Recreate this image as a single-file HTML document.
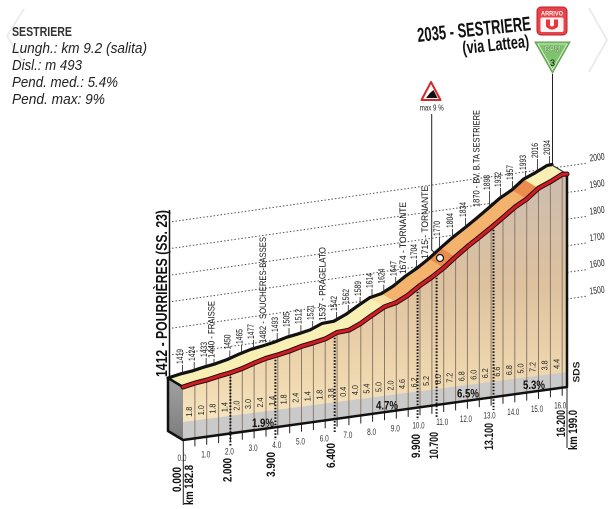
<!DOCTYPE html>
<html>
<head>
<meta charset="utf-8">
<style>
  html,body{margin:0;padding:0;background:#fff;}
  svg{display:block;}
  text{font-family:"Liberation Sans", sans-serif;}
</style>
</head>
<body>
<svg width="611" height="509" viewBox="0 0 611 509" xmlns="http://www.w3.org/2000/svg">
  <defs>
    <linearGradient id="front" gradientUnits="userSpaceOnUse" x1="0" y1="170" x2="0" y2="430">
      <stop offset="0" stop-color="#cbbcb0"/>
      <stop offset="0.45" stop-color="#dec29f"/>
      <stop offset="0.8" stop-color="#efd8b0"/>
      <stop offset="1" stop-color="#f8e8c2"/>
    </linearGradient>
    <linearGradient id="side" x1="0" y1="0" x2="0" y2="1">
      <stop offset="0" stop-color="#a2a2a2"/>
      <stop offset="1" stop-color="#7c7c7c"/>
    </linearGradient>
  </defs>
  <rect width="611" height="509" fill="#fff"/>

  <!-- faint chevrons -->
  <polyline points="24,9 7,36 24,63" fill="none" stroke="#ececec" stroke-width="2"/>
  <polyline points="589,8 607,40 589,72" fill="none" stroke="#ececec" stroke-width="2"/>

  <!-- top-left info -->
  <text x="12" y="36" font-size="13" font-weight="bold" fill="#333" textLength="60" lengthAdjust="spacingAndGlyphs">SESTRIERE</text>
  <text x="12" y="53" font-size="15" font-style="italic" fill="#222" textLength="135" lengthAdjust="spacingAndGlyphs">Lungh.: km 9.2 (salita)</text>
  <text x="12" y="70" font-size="15" font-style="italic" fill="#222" textLength="70" lengthAdjust="spacingAndGlyphs">Disl.: m 493</text>
  <text x="12" y="87" font-size="15" font-style="italic" fill="#222" textLength="106" lengthAdjust="spacingAndGlyphs">Pend. med.: 5.4%</text>
  <text x="12" y="104" font-size="15" font-style="italic" fill="#222" textLength="93" lengthAdjust="spacingAndGlyphs">Pend. max: 9%</text>

  <!-- title -->
  <text x="418" y="42" transform="rotate(-6 418 42)" font-size="20" font-weight="bold" fill="#111" textLength="114" lengthAdjust="spacingAndGlyphs">2035 - SESTRIERE</text>
  <text x="463" y="54" transform="rotate(-6 463 54)" font-size="18" font-weight="bold" fill="#111" textLength="67" lengthAdjust="spacingAndGlyphs">(via Lattea)</text>

  <!-- Arrivo icon -->
  <rect x="537" y="7" width="30" height="28" rx="4" fill="#e8434a" stroke="#b8242a" stroke-width="1"/>
  <text x="552" y="15.5" font-size="6.5" font-weight="bold" fill="#fff" text-anchor="middle" textLength="22" lengthAdjust="spacingAndGlyphs">ARRIVO</text>
  <rect x="540.5" y="17.5" width="23" height="14.5" rx="1.5" fill="#fff4f4"/>
  <path d="M546,19.5 h4 v6 q2,2 4,0 v-6 h4 v7 q-6,6 -12,0 z" fill="#e8343b"/>

  <!-- GPM -->
  <polygon points="535,42 570,42 552.5,73" fill="#7fc36c" stroke="#5c9c4e" stroke-width="1"/>
  <polygon points="538,44 567,44 552.5,69.5" fill="none" stroke="#dff2d5" stroke-width="0.8"/>
  <text x="552.5" y="52" font-size="8" font-weight="bold" fill="#e8f7df" stroke="#3f7a33" stroke-width="0.35" text-anchor="middle" textLength="16" lengthAdjust="spacingAndGlyphs">GPM</text>
  <text x="552.5" y="66" font-size="9" fill="#111" text-anchor="middle">3</text>
  <line x1="552.5" y1="74" x2="552.5" y2="165" stroke="#222" stroke-width="1"/>

  <!-- max 9% sign -->
  <polygon points="431,82 421.5,100 440.5,100" fill="#fff" stroke="#d42a2a" stroke-width="2" stroke-linejoin="round"/>
  <polygon points="426,98 437.5,98 433.5,90 430,93" fill="#111"/>
  <text x="431.7" y="110.5" font-size="8" fill="#222" text-anchor="middle" textLength="24" lengthAdjust="spacingAndGlyphs">max 9 %</text>
  <path d="M431.7,114 V250 L438,256" fill="none" stroke="#222" stroke-width="1"/>

  <!-- grid lines -->
  <g stroke="#555" stroke-width="1" stroke-dasharray="1.5 2" fill="none">
    <line x1="172" y1="221.7" x2="588" y2="163"/>
    <line x1="172" y1="248.3" x2="588" y2="189.6"/>
    <line x1="172" y1="274.9" x2="588" y2="216.2"/>
    <line x1="172" y1="301.5" x2="588" y2="242.8"/>
    <line x1="172" y1="328.1" x2="588" y2="269.4"/>
    <line x1="172" y1="354.7" x2="588" y2="296"/>
  </g>
  <g font-size="10" fill="#222" text-anchor="middle">
    <text transform="translate(597,157) rotate(-8)" dy="0.35em" textLength="15" lengthAdjust="spacingAndGlyphs">2000</text>
    <text transform="translate(597,183.6) rotate(-8)" dy="0.35em" textLength="15" lengthAdjust="spacingAndGlyphs">1900</text>
    <text transform="translate(597,210.2) rotate(-8)" dy="0.35em" textLength="15" lengthAdjust="spacingAndGlyphs">1800</text>
    <text transform="translate(597,236.8) rotate(-8)" dy="0.35em" textLength="15" lengthAdjust="spacingAndGlyphs">1700</text>
    <text transform="translate(597,263.4) rotate(-8)" dy="0.35em" textLength="15" lengthAdjust="spacingAndGlyphs">1600</text>
    <text transform="translate(597,290) rotate(-8)" dy="0.35em" textLength="15" lengthAdjust="spacingAndGlyphs">1500</text>
  </g>

  <!-- start label -->
  <line x1="169.5" y1="210" x2="169.5" y2="378" stroke="#111" stroke-width="1.5"/>
  <text transform="translate(166.8,377) rotate(-90)" font-size="16" font-weight="bold" fill="#111" textLength="167" lengthAdjust="spacingAndGlyphs">1412 - POURRIÈRES (SS. 23)</text>

  <!-- side face -->
  <polygon points="168,378 183,387 183,440 168,431" fill="url(#side)"/>

  <!-- front face -->
  <polygon fill="url(#front)" points="183,387 194.9,383.1 206.7,380.1 218.6,376.2 230.4,372.8 242.3,368.5 254.1,363.1 266,358.3 277.8,354.9 289.7,351 301.5,346.3 313.4,342.8 325.2,338.9 337.1,332.4 348.9,330.2 360.8,323.4 372.6,314.9 384.5,306.8 396.3,302.6 408.2,295.1 420,285.5 431.9,277.2 443.7,267.8 455.6,256.9 467.4,246.6 479.3,237.2 491.1,227.6 503,217.5 514.8,207.2 526.7,199.1 538.5,188.2 550.4,181.7 562.2,174.4 567,174 567,387 183,440"/>

  <!-- gray band -->
  <polygon points="183,422 567,372 567,387 183,440" fill="#cacaca"/>

  <!-- vertical column lines -->
  <path fill="none" stroke="#8d7b69" stroke-width="1" d="M194.9,383.1V438.4M206.7,380.1V436.7M218.6,376.2V435.1M230.4,372.8V433.5M242.3,368.5V431.8M254.1,363.1V430.2M266,358.3V428.6M277.8,354.9V426.9M289.7,351V425.3M301.5,346.3V423.6M313.4,342.8V422M325.2,338.9V420.4M337.1,332.4V418.7M348.9,330.2V417.1M360.8,323.4V415.5M372.6,314.9V413.8M384.5,306.8V412.2M396.3,302.6V410.6M408.2,295.1V408.9M420,285.5V407.3M431.9,277.2V405.7M443.7,267.8V404M455.6,256.9V402.4M467.4,246.6V400.8M479.3,237.2V399.1M491.1,227.6V397.5M503,217.5V395.8M514.8,207.2V394.2M526.7,199.1V392.6M538.5,188.2V390.9M550.4,181.7V389.3M562.2,174.4V387.7"/>

  <!-- ticks below baseline -->
  <path fill="none" stroke="#222" stroke-width="1" d="M194.9,438.4v8M206.7,436.7v8M218.6,435.1v8M230.4,433.5v8M242.3,431.8v8M254.1,430.2v8M266,428.6v8M277.8,426.9v8M289.7,425.3v8M301.5,423.6v8M313.4,422v8M325.2,420.4v8M337.1,418.7v8M348.9,417.1v8M360.8,415.5v8M372.6,413.8v8M384.5,412.2v8M396.3,410.6v8M408.2,408.9v8M420,407.3v8M431.9,405.7v8M443.7,404v8M455.6,402.4v8M467.4,400.8v8M479.3,399.1v8M491.1,397.5v8M503,395.8v8M514.8,394.2v8M526.7,392.6v8M538.5,390.9v8M550.4,389.3v8M562.2,387.7v8M183.3,440V505M567,387V448"/>

  <!-- top face -->
  <polygon fill="#f7efb4" points="183,387 194.9,383.1 206.7,380.1 218.6,376.2 230.4,372.8 242.3,368.5 254.1,363.1 266,358.3 277.8,354.9 289.7,351 301.5,346.3 313.4,342.8 325.2,338.9 337.1,332.4 348.9,330.2 360.8,323.4 372.6,314.9 384.5,306.8 396.3,302.6 408.2,295.1 420,285.5 431.9,277.2 443.7,267.8 455.6,256.9 467.4,246.6 479.3,237.2 491.1,227.6 503,217.5 514.8,207.2 526.7,199.1 538.5,188.2 550.4,181.7 562.2,174.4 567,174 552,165 547.2,165.4 535.4,172.7 523.5,179.2 511.7,190.1 499.8,198.2 488,208.5 476.1,218.6 464.3,228.2 452.4,237.6 440.6,247.9 428.7,258.8 416.9,268.2 405,276.5 393.2,286.1 381.3,293.6 369.5,297.8 357.6,305.9 345.8,314.4 333.9,321.2 322.1,323.4 310.2,329.9 298.4,333.8 286.5,337.3 274.7,342 262.8,345.9 251,349.3 239.1,354.1 227.3,359.5 215.4,363.8 203.6,367.2 191.7,371.1 179.9,374.1 168,378"/>
  <polygon fill="#f4b36c" points="396.3,302.6 408.2,295.1 420,285.5 431.9,277.2 443.7,267.8 455.6,256.9 467.4,246.6 479.3,237.2 491.1,227.6 503,217.5 514.8,207.2 526.7,199.1 511.7,190.1 499.8,198.2 488,208.5 476.1,218.6 464.3,228.2 452.4,237.6 440.6,247.9 428.7,258.8 416.9,268.2 405,276.5 393.2,286.1 381.3,293.6"/>
  <polygon fill="#f9d89a" opacity="0.7" points="384.5,306.8 396.3,302.6 381.3,293.6 369.5,297.8"/>
  <polygon fill="#ec8c4c" points="443.7,267.8 455.6,256.9 440.6,247.9 428.7,258.8"/>
  <polygon fill="#ec8c4c" points="526.7,199.1 538.5,188.2 523.5,179.2 511.7,190.1"/>

  <!-- gradient labels -->
  <g font-size="8.5" fill="#222" text-anchor="middle">
    <text transform="translate(191.9,411.7) rotate(-90)" textLength="10" lengthAdjust="spacingAndGlyphs">1.8</text>
    <text transform="translate(203.8,410.2) rotate(-90)" textLength="10" lengthAdjust="spacingAndGlyphs">1.0</text>
    <text transform="translate(215.6,408.6) rotate(-90)" textLength="10" lengthAdjust="spacingAndGlyphs">1.8</text>
    <text transform="translate(227.5,407.1) rotate(-90)" textLength="10" lengthAdjust="spacingAndGlyphs">1.4</text>
    <text transform="translate(239.3,405.6) rotate(-90)" textLength="10" lengthAdjust="spacingAndGlyphs">2.0</text>
    <text transform="translate(251.2,404) rotate(-90)" textLength="10" lengthAdjust="spacingAndGlyphs">3.0</text>
    <text transform="translate(263,402.5) rotate(-90)" textLength="10" lengthAdjust="spacingAndGlyphs">2.4</text>
    <text transform="translate(274.9,400.9) rotate(-90)" textLength="10" lengthAdjust="spacingAndGlyphs">1.4</text>
    <text transform="translate(286.7,399.4) rotate(-90)" textLength="10" lengthAdjust="spacingAndGlyphs">1.8</text>
    <text transform="translate(298.6,397.8) rotate(-90)" textLength="10" lengthAdjust="spacingAndGlyphs">2.4</text>
    <text transform="translate(310.4,396.3) rotate(-90)" textLength="10" lengthAdjust="spacingAndGlyphs">1.4</text>
    <text transform="translate(322.3,394.8) rotate(-90)" textLength="10" lengthAdjust="spacingAndGlyphs">1.8</text>
    <text transform="translate(334.1,393.2) rotate(-90)" textLength="10" lengthAdjust="spacingAndGlyphs">3.8</text>
    <text transform="translate(346,391.7) rotate(-90)" textLength="10" lengthAdjust="spacingAndGlyphs">0.4</text>
    <text transform="translate(357.8,390.1) rotate(-90)" textLength="10" lengthAdjust="spacingAndGlyphs">4.0</text>
    <text transform="translate(369.7,388.6) rotate(-90)" textLength="10" lengthAdjust="spacingAndGlyphs">5.4</text>
    <text transform="translate(381.5,387) rotate(-90)" textLength="10" lengthAdjust="spacingAndGlyphs">5.0</text>
    <text transform="translate(393.4,385.5) rotate(-90)" textLength="10" lengthAdjust="spacingAndGlyphs">2.0</text>
    <text transform="translate(405.2,384) rotate(-90)" textLength="10" lengthAdjust="spacingAndGlyphs">4.6</text>
    <text transform="translate(417.1,382.4) rotate(-90)" textLength="10" lengthAdjust="spacingAndGlyphs">6.2</text>
    <text transform="translate(428.9,380.9) rotate(-90)" textLength="10" lengthAdjust="spacingAndGlyphs">5.2</text>
    <text transform="translate(440.8,379.3) rotate(-90)" textLength="10" lengthAdjust="spacingAndGlyphs">6.0</text>
    <text transform="translate(452.6,377.8) rotate(-90)" textLength="10" lengthAdjust="spacingAndGlyphs">7.2</text>
    <text transform="translate(464.5,376.3) rotate(-90)" textLength="10" lengthAdjust="spacingAndGlyphs">6.8</text>
    <text transform="translate(476.3,374.7) rotate(-90)" textLength="10" lengthAdjust="spacingAndGlyphs">6.0</text>
    <text transform="translate(488.2,373.2) rotate(-90)" textLength="10" lengthAdjust="spacingAndGlyphs">6.2</text>
    <text transform="translate(500,371.6) rotate(-90)" textLength="10" lengthAdjust="spacingAndGlyphs">6.6</text>
    <text transform="translate(511.9,370.1) rotate(-90)" textLength="10" lengthAdjust="spacingAndGlyphs">6.8</text>
    <text transform="translate(523.7,368.5) rotate(-90)" textLength="10" lengthAdjust="spacingAndGlyphs">5.0</text>
    <text transform="translate(535.6,367) rotate(-90)" textLength="10" lengthAdjust="spacingAndGlyphs">7.2</text>
    <text transform="translate(547.4,365.4) rotate(-90)" textLength="10" lengthAdjust="spacingAndGlyphs">3.8</text>
    <text transform="translate(559.3,363.9) rotate(-90)" textLength="10" lengthAdjust="spacingAndGlyphs">4.4</text>
  </g>

  <!-- percent labels -->
  <g font-size="12" font-weight="bold" fill="#111" text-anchor="middle">
    <text x="263" y="427" textLength="22" lengthAdjust="spacingAndGlyphs">1.9%</text>
    <text x="387" y="409.5" textLength="22" lengthAdjust="spacingAndGlyphs">4.7%</text>
    <text x="468" y="397.5" textLength="22" lengthAdjust="spacingAndGlyphs">6.5%</text>
    <text x="534" y="389" textLength="22" lengthAdjust="spacingAndGlyphs">5.3%</text>
  </g>

  <!-- dotted separators -->
  <path fill="none" stroke="#111" stroke-width="2" stroke-dasharray="1.6 1.6" d="M230.4,373.5V446M275.4,356.5V440M334.7,334.5V432M417.6,288.5V420M436.6,274.5V418M493.5,226.5V410"/>

  <!-- outlines -->
  <polyline fill="none" stroke="#111" stroke-width="2.5" stroke-linejoin="round" points="183,387 168,378 168,431 183,440 567,387 567,174"/>
  <polyline fill="none" stroke="#111" stroke-width="3.2" stroke-linejoin="round" stroke-linecap="round" points="168,378 179.9,374.1 191.7,371.1 203.6,367.2 215.4,363.8 227.3,359.5 239.1,354.1 251,349.3 262.8,345.9 274.7,342 286.5,337.3 298.4,333.8 310.2,329.9 322.1,323.4 333.9,321.2 345.8,314.4 357.6,305.9 369.5,297.8 381.3,293.6 393.2,286.1 405,276.5 416.9,268.2 428.7,258.8 440.6,247.9 452.4,237.6 464.3,228.2 476.1,218.6 488,208.5 499.8,198.2 511.7,190.1 523.5,179.2 535.4,172.7 547.2,165.4 552,164.5"/>
  <line x1="552" y1="165" x2="567" y2="174" stroke="#333" stroke-width="1.2"/>
  <!-- red edge -->
  <polyline fill="none" stroke="#2a0a0a" stroke-width="5" stroke-linejoin="round" stroke-linecap="round" points="183,387 194.9,383.1 206.7,380.1 218.6,376.2 230.4,372.8 242.3,368.5 254.1,363.1 266,358.3 277.8,354.9 289.7,351 301.5,346.3 313.4,342.8 325.2,338.9 337.1,332.4 348.9,330.2 360.8,323.4 372.6,314.9 384.5,306.8 396.3,302.6 408.2,295.1 420,285.5 431.9,277.2 443.7,267.8 455.6,256.9 467.4,246.6 479.3,237.2 491.1,227.6 503,217.5 514.8,207.2 526.7,199.1 538.5,188.2 550.4,181.7 562.2,174.4 567,174"/>
  <polyline fill="none" stroke="#cf1d26" stroke-width="3" stroke-linejoin="round" stroke-linecap="round" points="183,387 194.9,383.1 206.7,380.1 218.6,376.2 230.4,372.8 242.3,368.5 254.1,363.1 266,358.3 277.8,354.9 289.7,351 301.5,346.3 313.4,342.8 325.2,338.9 337.1,332.4 348.9,330.2 360.8,323.4 372.6,314.9 384.5,306.8 396.3,302.6 408.2,295.1 420,285.5 431.9,277.2 443.7,267.8 455.6,256.9 467.4,246.6 479.3,237.2 491.1,227.6 503,217.5 514.8,207.2 526.7,199.1 538.5,188.2 550.4,181.7 562.2,174.4 567,174"/>

  <!-- circle marker -->
  <circle cx="440" cy="258" r="3.5" fill="#fff" stroke="#111" stroke-width="1.2"/>

  <!-- top labels leaders -->
  <path fill="none" stroke="#222" stroke-width="0.8" d="M182.4,365V373M194.2,362V370M206.1,358V366M214,359V364M229.8,350.5V358.5M241.6,345V353M253.5,340V348M265.3,344V345M277.2,333V341M289,328V336M300.9,325V333M312.7,321V329M336.4,312V320M348.3,305V313M360.1,297V305M372,289V297M383.8,284.6V292.6M395.7,277V285M416.5,260V267M439.5,237V247M452.5,229V237M465.5,218V227M489.5,191V207M500.5,188V197M512.5,181V189M525.5,171V178M537.5,159V171M549.5,156V164"/>

  <!-- top labels -->
  <g font-size="9" fill="#111">
    <text transform="translate(183.1,364) rotate(-90)" textLength="15" lengthAdjust="spacingAndGlyphs">1419</text>
    <text transform="translate(194.9,361) rotate(-90)" textLength="15" lengthAdjust="spacingAndGlyphs">1424</text>
    <text transform="translate(206.8,357) rotate(-90)" textLength="15" lengthAdjust="spacingAndGlyphs">1433</text>
    <text transform="translate(214.7,358) rotate(-90)" textLength="57" lengthAdjust="spacingAndGlyphs">1440 - FRAISSE</text>
    <text transform="translate(230.5,349.5) rotate(-90)" textLength="15" lengthAdjust="spacingAndGlyphs">1450</text>
    <text transform="translate(242.3,344) rotate(-90)" textLength="15" lengthAdjust="spacingAndGlyphs">1465</text>
    <text transform="translate(254.2,339) rotate(-90)" textLength="15" lengthAdjust="spacingAndGlyphs">1477</text>
    <text transform="translate(266,343) rotate(-90)" textLength="106" lengthAdjust="spacingAndGlyphs">1482 - SOUCHERES-BASSES</text>
    <text transform="translate(277.9,332) rotate(-90)" textLength="15" lengthAdjust="spacingAndGlyphs">1493</text>
    <text transform="translate(289.7,327) rotate(-90)" textLength="15" lengthAdjust="spacingAndGlyphs">1505</text>
    <text transform="translate(301.6,324) rotate(-90)" textLength="15" lengthAdjust="spacingAndGlyphs">1512</text>
    <text transform="translate(313.4,320) rotate(-90)" textLength="15" lengthAdjust="spacingAndGlyphs">1521</text>
    <text transform="translate(325.3,321) rotate(-90)" textLength="74" lengthAdjust="spacingAndGlyphs">1537 - PRAGELATO</text>
    <text transform="translate(337.1,311) rotate(-90)" textLength="15" lengthAdjust="spacingAndGlyphs">1542</text>
    <text transform="translate(349,304) rotate(-90)" textLength="15" lengthAdjust="spacingAndGlyphs">1562</text>
    <text transform="translate(360.8,296) rotate(-90)" textLength="15" lengthAdjust="spacingAndGlyphs">1589</text>
    <text transform="translate(372.7,288) rotate(-90)" textLength="15" lengthAdjust="spacingAndGlyphs">1614</text>
    <text transform="translate(384.5,283.6) rotate(-90)" textLength="15" lengthAdjust="spacingAndGlyphs">1624</text>
    <text transform="translate(396.4,276) rotate(-90)" textLength="15" lengthAdjust="spacingAndGlyphs">1647</text>
    <text transform="translate(406.2,274) rotate(-90)" textLength="72" lengthAdjust="spacingAndGlyphs">1674 - TORNANTE</text>
    <text transform="translate(417.2,259) rotate(-90)" textLength="15" lengthAdjust="spacingAndGlyphs">1704</text>
    <text transform="translate(428.2,259) rotate(-90)" textLength="73" lengthAdjust="spacingAndGlyphs">1715 - TORNANTE</text>
    <text transform="translate(440.2,236) rotate(-90)" textLength="15" lengthAdjust="spacingAndGlyphs">1770</text>
    <text transform="translate(453.2,228) rotate(-90)" textLength="15" lengthAdjust="spacingAndGlyphs">1804</text>
    <text transform="translate(466.2,217) rotate(-90)" textLength="15" lengthAdjust="spacingAndGlyphs">1834</text>
    <text transform="translate(479.7,207) rotate(-90)" textLength="97" lengthAdjust="spacingAndGlyphs">1870 - BV. B.TA SESTRIERE</text>
    <text transform="translate(490.2,190) rotate(-90)" textLength="15" lengthAdjust="spacingAndGlyphs">1898</text>
    <text transform="translate(501.2,187) rotate(-90)" textLength="15" lengthAdjust="spacingAndGlyphs">1932</text>
    <text transform="translate(513.2,180) rotate(-90)" textLength="15" lengthAdjust="spacingAndGlyphs">1957</text>
    <text transform="translate(526.2,170) rotate(-90)" textLength="15" lengthAdjust="spacingAndGlyphs">1993</text>
    <text transform="translate(538.2,158) rotate(-90)" textLength="15" lengthAdjust="spacingAndGlyphs">2016</text>
    <text transform="translate(550.2,155) rotate(-90)" textLength="15" lengthAdjust="spacingAndGlyphs">2034</text>
  </g>

  <!-- small km labels -->
  <g font-size="9" fill="#333" text-anchor="middle">
    <text x="182" y="461" textLength="9" lengthAdjust="spacingAndGlyphs">0.0</text>
    <text x="205.7" y="457.7" textLength="9" lengthAdjust="spacingAndGlyphs">1.0</text>
    <text x="229.4" y="454.5" textLength="9" lengthAdjust="spacingAndGlyphs">2.0</text>
    <text x="253.1" y="451.2" textLength="9" lengthAdjust="spacingAndGlyphs">3.0</text>
    <text x="276.8" y="447.9" textLength="9" lengthAdjust="spacingAndGlyphs">4.0</text>
    <text x="300.5" y="444.6" textLength="9" lengthAdjust="spacingAndGlyphs">5.0</text>
    <text x="324.2" y="441.4" textLength="9" lengthAdjust="spacingAndGlyphs">6.0</text>
    <text x="347.9" y="438.1" textLength="9" lengthAdjust="spacingAndGlyphs">7.0</text>
    <text x="371.6" y="434.8" textLength="9" lengthAdjust="spacingAndGlyphs">8.0</text>
    <text x="395.3" y="431.6" textLength="9" lengthAdjust="spacingAndGlyphs">9.0</text>
    <text x="418.5" y="428.3" textLength="12" lengthAdjust="spacingAndGlyphs">10.0</text>
    <text x="442.2" y="425" textLength="12" lengthAdjust="spacingAndGlyphs">11.0</text>
    <text x="465.9" y="421.8" textLength="12" lengthAdjust="spacingAndGlyphs">12.0</text>
    <text x="489.6" y="418.5" textLength="12" lengthAdjust="spacingAndGlyphs">13.0</text>
    <text x="513.3" y="415.2" textLength="12" lengthAdjust="spacingAndGlyphs">14.0</text>
    <text x="537" y="411.9" textLength="12" lengthAdjust="spacingAndGlyphs">15.0</text>
    <text x="560.2" y="408.7" textLength="12" lengthAdjust="spacingAndGlyphs">16.0</text>
  </g>

  <!-- big km labels -->
  <g font-size="12" font-weight="bold" fill="#111" text-anchor="end">
    <text transform="translate(181.2,467) rotate(-90)" textLength="25" lengthAdjust="spacingAndGlyphs">0.000</text>
    <text transform="translate(193.2,465) rotate(-90)" textLength="40" lengthAdjust="spacingAndGlyphs">km 182.8</text>
    <text transform="translate(231.5,458) rotate(-90)" textLength="24" lengthAdjust="spacingAndGlyphs">2.000</text>
    <text transform="translate(275,452) rotate(-90)" textLength="25" lengthAdjust="spacingAndGlyphs">3.900</text>
    <text transform="translate(335,443) rotate(-90)" textLength="25" lengthAdjust="spacingAndGlyphs">6.400</text>
    <text transform="translate(420,434) rotate(-90)" textLength="24" lengthAdjust="spacingAndGlyphs">9.900</text>
    <text transform="translate(438,432) rotate(-90)" textLength="27" lengthAdjust="spacingAndGlyphs">10.700</text>
    <text transform="translate(493,423) rotate(-90)" textLength="27" lengthAdjust="spacingAndGlyphs">13.100</text>
    <text transform="translate(565,410) rotate(-90)" textLength="27" lengthAdjust="spacingAndGlyphs">16.200</text>
    <text transform="translate(577,410) rotate(-90)" textLength="40" lengthAdjust="spacingAndGlyphs">km 199.0</text>
  </g>

  <!-- SDS -->
  <text transform="translate(579.5,372) rotate(-90)" font-size="9" font-weight="bold" fill="#222" text-anchor="middle" textLength="21" lengthAdjust="spacingAndGlyphs">SDS</text>
</svg>
</body>
</html>
